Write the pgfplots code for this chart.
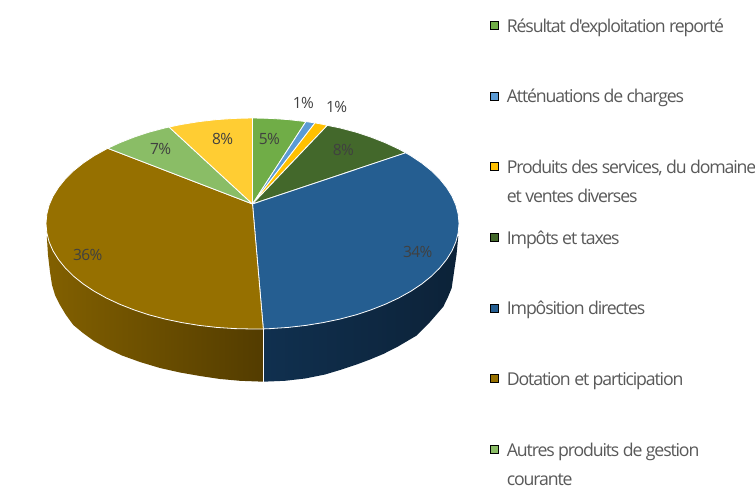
\documentclass[border=0pt]{standalone}
\usepackage{fontspec}
\setmainfont{Open Sans}
\newfontfamily\legfont[LetterSpace=-6.5, Ligatures=NoCommon]{Open Sans}
\newfontfamily\pctfont[LetterSpace=-4]{Open Sans}
\usepackage{pgfplots}
\usepackage{pgfplotstable}
\pgfplotsset{compat=1.18}
\definecolor{cGreen}{HTML}{70AD47}
\definecolor{cSky}{HTML}{5B9BD5}
\definecolor{cOrange}{HTML}{FFC000}
\definecolor{cDark}{HTML}{43682B}
\definecolor{cBlue}{HTML}{255E91}
\definecolor{cBrown}{HTML}{967000}
\definecolor{cLight}{HTML}{8ABD66}
\definecolor{cYellow}{HTML}{FFCD33}
\definecolor{sideBrownL}{HTML}{826000}
\definecolor{sideBrownR}{HTML}{533C00}
\definecolor{sideBlueL}{HTML}{10304F}
\definecolor{sideBlueR}{HTML}{0C2238}
\definecolor{txt}{HTML}{595959}
\definecolor{lab}{HTML}{404040}

% percent labels, x y in picture pixels
\pgfplotstableread[col sep=comma]{
x,y,pct
269.3,139.3,5
303.3,102.7,1
336.7,106.7,1
343.3,149.7,8
417.7,252.3,34
87.7,255,36
160.7,149.3,7
222.7,139,8
}\pctlabels

% legend text, one row per line of text
\pgfplotstableread[col sep=comma]{
x,y,name
506.7,32.7,Résultat d'exploitation reporté
506.7,102.7,Atténuations de charges
506.7,174,{Produits des services, du domaine}
506.7,202.7,et ventes diverses
506.7,244,Impôts et taxes
506.7,314.3,Impôsition directes
506.7,385,Dotation et participation
506.7,456,Autres produits de gestion
506.7,485,courante
}\legendtext

\begin{document}
\begin{tikzpicture}
\useasboundingbox (0,0) rectangle (755pt,495pt);
\begin{axis}[
  at={(0,0)}, anchor=south west,
  width=755pt, height=495pt, scale only axis,
  xmin=0, xmax=755, ymin=0, ymax=495,
  y dir=reverse,
  hide axis,
  clip=true,
]
%% sides of the pie
\addplot[draw=none, shade, left color=sideBrownL, right color=sideBrownR] coordinates {
  (46.8,236) (48,255) (50,272) (52,285) (55,295) (60,305) (66,315) (73.3,325) (83,333) (94,341)
  (106.7,348.3) (122,355.5) (140,362) (160,368) (180,372.5) (200,376) (220,379) (240,380.8)
  (263.3,381.7) (263.3,328.9) (46.8,236)
};
\addplot[draw=none, shade, left color=sideBlueL, right color=sideBlueR] coordinates {
  (263.3,328.9) (263.3,381.7) (285,380.8) (305,378.5) (325,374.5) (340,370) (356.7,364.5) (370,359.5)
  (383.3,354) (398,346.5) (416.7,335.5) (430,322) (443.3,306.7) (448,297) (451.7,288) (454,272)
  (456.5,255) (458.3,236) (263.3,328.9)
};
\addplot[white, line width=0.8pt] coordinates {(263.3,329) (263.3,381.7)};

%% top of the pie
\addplot[fill=cGreen, draw=white, line width=0.8pt] coordinates {
  (252.5,204) (252.5,118) (270.5,118.4) (288.3,119.6) (305.9,121.6) (252.5,204)
};
\addplot[fill=cSky, draw=white, line width=0.8pt] coordinates {
  (252.5,204) (305.9,121.6) (315,122.9) (252.5,204)
};
\addplot[fill=cOrange, draw=white, line width=0.8pt] coordinates {
  (252.5,204) (315,122.9) (323.1,124.4) (327.3,125.4) (252.5,204)
};
\addplot[fill=cDark, draw=white, line width=0.8pt] coordinates {
  (252.5,204) (327.3,125.4) (339.8,127.9) (355.8,132.1) (370.9,137.1) (385.2,142.7) (398.5,148.9)
  (405.7,152.8) (252.5,204)
};
\addplot[fill=cBlue, draw=white, line width=0.8pt] coordinates {
  (252.5,204) (405.7,152.8) (410.7,155.7) (421.7,163) (431.3,170.7) (439.6,178.9) (446.5,187.4)
  (452,196.2) (455.9,205.2) (458.2,214.3) (459,223.5) (458.2,232.7) (455.9,241.8) (452,250.8)
  (446.5,259.6) (439.6,268.1) (431.3,276.3) (421.7,284) (410.7,291.3) (398.5,298.1) (385.2,304.3)
  (370.9,309.9) (355.8,314.9) (339.8,319.1) (323.1,322.6) (305.9,325.4) (288.3,327.4) (270.5,328.6)
  (263.3,328.9) (252.5,204)
};
\addplot[fill=cBrown, draw=white, line width=0.8pt] coordinates {
  (252.5,204) (263.3,328.9) (252.5,329) (234.5,328.6) (216.7,327.4) (199.1,325.4) (181.9,322.6)
  (165.2,319.1) (149.2,314.9) (134.1,309.9) (119.8,304.3) (106.5,298.1) (94.3,291.3) (83.3,284)
  (73.7,276.3) (65.4,268.1) (58.5,259.6) (53,250.8) (49.1,241.8) (46.8,232.7) (46,223.5) (46.8,214.3)
  (49.1,205.2) (53,196.2) (58.5,187.4) (65.4,178.9) (73.7,170.7) (83.3,163) (94.3,155.7) (107.7,148.3)
  (252.5,204)
};
\addplot[fill=cLight, draw=white, line width=0.8pt] coordinates {
  (252.5,204) (107.7,148.3) (119.8,142.7) (134.1,137.1) (149.2,132.1) (165.2,127.9) (169,127) (252.5,204)
};
\addplot[fill=cYellow, draw=white, line width=0.8pt] coordinates {
  (252.5,204) (169,127) (181.9,124.4) (199.1,121.6) (216.7,119.6) (234.5,118.4) (252.5,118) (252.5,204)
};

%% percent labels
\addplot[only marks, mark=none, point meta=explicit symbolic,
  nodes near coords={\pgfplotspointmeta\%},
  every node near coord/.append style={anchor=center, inner sep=0pt, font=\pctfont\fontsize{15.5}{15.5}\selectfont, text=lab}]
  table[x=x, y=y, meta=pct] {\pctlabels};

%% legend
\addplot[only marks, mark=square*, mark size=4pt, mark options={draw=none, fill=cGreen}] coordinates {(494.5,25)};
\addplot[only marks, mark=square*, mark size=4pt, mark options={draw=none, fill=cSky}] coordinates {(494.5,96)};
\addplot[only marks, mark=square*, mark size=4pt, mark options={draw=none, fill=cOrange}] coordinates {(494.5,166)};
\addplot[only marks, mark=square*, mark size=4pt, mark options={draw=none, fill=cDark}] coordinates {(494.5,236.7)};
\addplot[only marks, mark=square*, mark size=4pt, mark options={draw=none, fill=cBlue}] coordinates {(494.5,307.7)};
\addplot[only marks, mark=square*, mark size=4pt, mark options={draw=none, fill=cBrown}] coordinates {(494.5,378.3)};
\addplot[only marks, mark=square*, mark size=4pt, mark options={draw=none, fill=cLight}] coordinates {(494.5,449)};
\addplot[only marks, mark=none, point meta=explicit symbolic,
  nodes near coords={\pgfplotspointmeta},
  every node near coord/.append style={anchor=base west, inner sep=0pt, font=\legfont\fontsize{17.7}{17.7}\selectfont, text=txt}]
  table[x=x, y=y, meta=name] {\legendtext};
\end{axis}
\end{tikzpicture}
\end{document}
